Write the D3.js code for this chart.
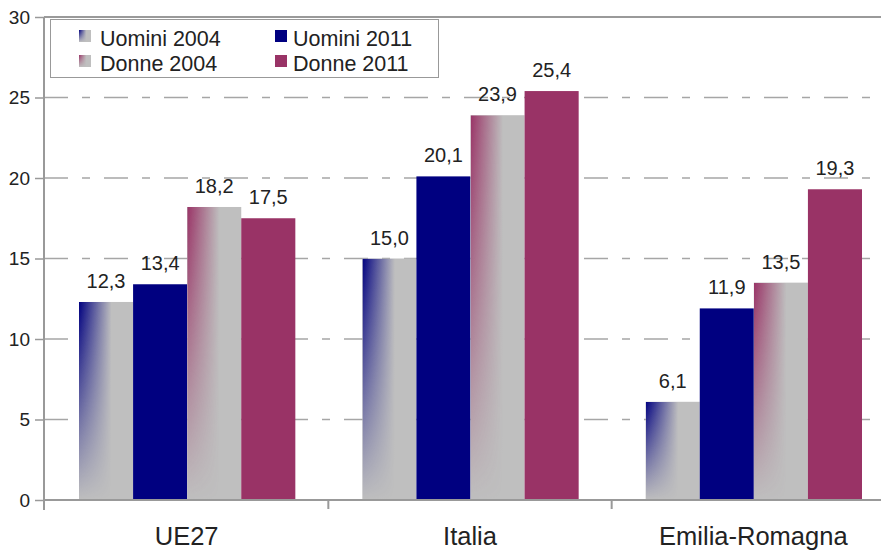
<!DOCTYPE html>
<html><head><meta charset="utf-8">
<script src="https://cdn.jsdelivr.net/npm/d3@7"></script>
<style>body{margin:0;background:#fff}svg{display:block;font-family:"Liberation Sans",Arial,sans-serif}</style>
</head><body><svg id="c" width="881" height="552"></svg>
<script>
const categories = ["UE27", "Italia", "Emilia-Romagna"];
const seriesNames = ["Uomini 2004", "Uomini 2011", "Donne 2004", "Donne 2011"];
const uomini2004 = [12.3, 15.0, 6.1];
const uomini2011 = [13.4, 20.1, 11.9];
const donne2004 = [18.2, 23.9, 13.5];
const donne2011 = [17.5, 25.4, 19.3];
const yTicks = [0, 5, 10, 15, 20, 25, 30];

const seriesValues = [uomini2004, uomini2011, donne2004, donne2011];
const seriesColor = ["#000080", "#000080", "#993366", "#993366"];
const seriesGrad = [true, false, true, false];
const gray = "#bfbfbf";

const svg = d3.select("#c");
const mLeft = 44, mTop = 17, mBottom = 500;
const y = d3.scaleLinear().domain([0, 30]).range([mBottom, mTop]);
const x0 = d3.scaleBand().domain(categories).range([45, 895]).padding(0);
const x1 = d3.scaleBand().domain(seriesNames).range([34, x0.bandwidth() - 33]).padding(0);

const defs = svg.append("defs");
const hg = defs.append("linearGradient").attr("id", "hg").attr("x1", 0).attr("y1", 0).attr("x2", 1).attr("y2", 0);
hg.append("stop").attr("offset", 0).attr("stop-color", "#fff");
hg.append("stop").attr("offset", 0.6).attr("stop-color", "#000");
const vg = defs.append("linearGradient").attr("id", "vg").attr("x1", 0).attr("y1", 0).attr("x2", 0).attr("y2", 1);
vg.append("stop").attr("offset", 0).attr("stop-color", "#fff");
vg.append("stop").attr("offset", 1).attr("stop-color", "#000");
defs.append("mask").attr("id", "hm").attr("maskContentUnits", "objectBoundingBox")
  .append("rect").attr("x", 0).attr("y", 0).attr("width", 1).attr("height", 1).attr("fill", "url(#hg)");
defs.append("mask").attr("id", "vm").attr("maskContentUnits", "objectBoundingBox")
  .append("rect").attr("x", 0).attr("y", 0).attr("width", 1).attr("height", 1).attr("fill", "url(#vg)");

// gridlines
svg.append("g").selectAll("line").data(yTicks.filter(t => t > 0 && t < 30)).join("line")
  .attr("x1", mLeft).attr("x2", 881).attr("y1", d => y(d)).attr("y2", d => y(d))
  .attr("stroke", "#a6a6a6").attr("stroke-width", 1.5).attr("stroke-dasharray", "24,14,8,14");
svg.append("line").attr("x1", mLeft).attr("x2", 881).attr("y1", y(30)).attr("y2", y(30))
  .attr("stroke", "#9a9a9a").attr("stroke-width", 2);

function drawBar(g, xPos, yTop, w, h, si) {
  if (seriesGrad[si]) {
    g.append("rect").attr("x", xPos).attr("y", yTop).attr("width", w).attr("height", h).attr("fill", gray);
    g.append("g").attr("mask", "url(#vm)")
      .append("rect").attr("x", xPos).attr("y", yTop).attr("width", w).attr("height", h)
      .attr("fill", seriesColor[si]).attr("mask", "url(#hm)");
  } else {
    g.append("rect").attr("x", xPos).attr("y", yTop).attr("width", w).attr("height", h).attr("fill", seriesColor[si]);
  }
}
const barsG = svg.append("g");
categories.forEach((c, ci) => {
  seriesNames.forEach((s, si) => {
    const v = seriesValues[si][ci];
    drawBar(barsG, x0(c) + x1(s), y(v), x1.bandwidth(), y(0) - y(v), si);
  });
});
categories.forEach((c, ci) => {
  seriesNames.forEach((s, si) => {
    const v = seriesValues[si][ci];
    svg.append("text").attr("x", x0(c) + x1(s) + x1.bandwidth() / 2).attr("y", y(v) - 14)
      .attr("text-anchor", "middle").attr("font-size", 20).attr("fill", "#222")
      .text(v.toFixed(1).replace(".", ","));
  });
});

const yAxis = svg.append("g").attr("transform", `translate(${mLeft},0)`)
  .call(d3.axisLeft(y).tickValues(yTicks).tickSize(9).tickPadding(5).tickFormat(d => d));
yAxis.select(".domain").remove();
yAxis.selectAll(".tick line").attr("stroke", "#999").attr("stroke-width", 1.5);
yAxis.selectAll("text").attr("font-size", 19).attr("fill", "#222").attr("font-family", "Liberation Sans, Arial, sans-serif");
svg.append("line").attr("x1", mLeft).attr("x2", mLeft).attr("y1", mTop).attr("y2", mBottom + 10)
  .attr("stroke", "#999").attr("stroke-width", 2);
svg.append("line").attr("x1", mLeft).attr("x2", 881).attr("y1", mBottom).attr("y2", mBottom)
  .attr("stroke", "#999").attr("stroke-width", 2);
svg.append("g").selectAll("line").data(categories.slice(1)).join("line")
  .attr("x1", d => x0(d)).attr("x2", d => x0(d)).attr("y1", mBottom).attr("y2", mBottom + 9)
  .attr("stroke", "#999").attr("stroke-width", 2);
svg.append("g").selectAll("text").data(categories).join("text")
  .attr("x", d => x0(d) + x0.bandwidth() / 2).attr("y", 545)
  .attr("text-anchor", "middle").attr("font-size", 25.5).attr("fill", "#222").text(d => d);

const lg = svg.append("g");
lg.append("rect").attr("x", 50.5).attr("y", 19.5).attr("width", 388).attr("height", 58)
  .attr("fill", "#fff").attr("stroke", "#999").attr("stroke-width", 1);
const legPos = [[79, 30], [275, 30], [79, 55], [275, 55]];
seriesNames.forEach((s, si) => {
  const [lx, ly] = legPos[si];
  drawBar(lg, lx, ly, 12, 12, si);
  lg.append("text").attr("x", lx + (si % 2 ? 18 : 21)).attr("y", ly + 16)
    .attr("font-size", 21.5).attr("fill", "#222").text(s);
});
</script></body></html>
